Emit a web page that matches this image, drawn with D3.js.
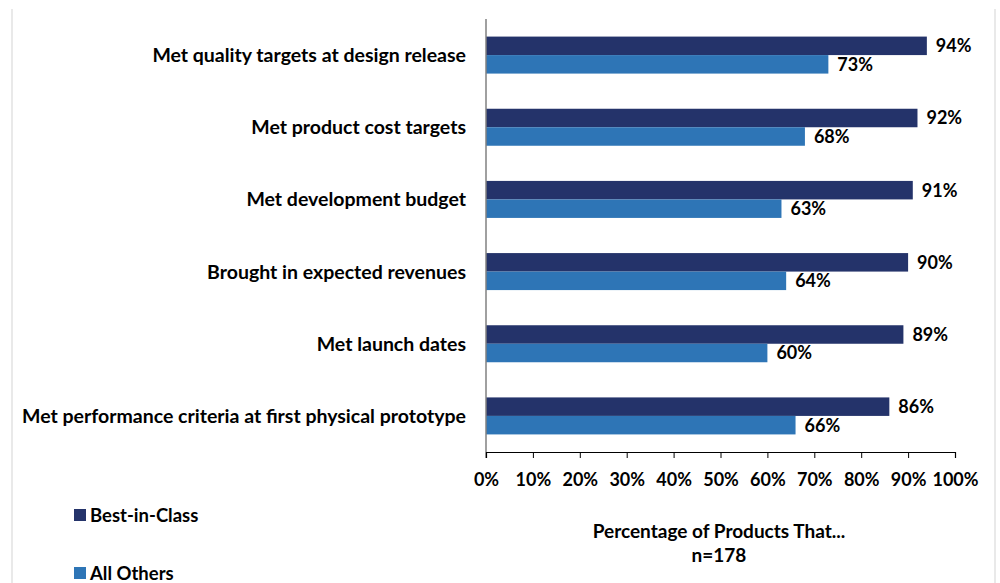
<!DOCTYPE html>
<html>
<head>
<meta charset="utf-8">
<script src="https://cdn.jsdelivr.net/npm/d3@7"></script>
<style>
  body { margin: 0; background: #fff; }
  text { font-family: Lato, "Open Sans", sans-serif; font-weight: bold; fill: #000; }
</style>
</head>
<body>
<script>
// Chart data
var categories = [
  "Met quality targets at design release",
  "Met product cost targets",
  "Met development budget",
  "Brought in expected revenues",
  "Met launch dates",
  "Met performance criteria at first physical prototype"
];
var seriesNames = ["Best-in-Class", "All Others"];
var bestInClass = [94, 92, 91, 90, 89, 86];
var allOthers = [73, 68, 63, 64, 60, 66];
var xTicks = [0, 10, 20, 30, 40, 50, 60, 70, 80, 90, 100];
var axisTitle = ["Percentage of Products That...", "n=178"];

var colors = ["#24336a", "#2e75b6"];
var width = 1000, height = 583;

var svg = d3.select("body")
.append("svg")
.attr("width", width)
.attr("height", height);

// light frame around the chart area
svg.append("line").attr("x1", 12).attr("x2", 12).attr("y1", 9).attr("y2", height)
.attr("stroke", "#e2e2e2").attr("stroke-width", 1.5);
svg.append("line").attr("x1", 995).attr("x2", 995).attr("y1", 9).attr("y2", height)
.attr("stroke", "#e2e2e2").attr("stroke-width", 1.5);

// scales
var x_Scale = d3.scaleLinear()
.domain([0, 100])
.range([486, 955]);

var y_Scale = d3.scaleBand()
.domain(categories)
.range([19, 452]);

var barH = 18.5;

// rows: one per category
var rows = categories.map(function(c, i) {
  return {cat: c, vals: [bestInClass[i], allOthers[i]]};
});

var groups = svg.selectAll(".row")
.data(rows)
.enter()
.append("g")
.attr("class", "row");

groups.each(function(d) {
  var g = d3.select(this);
  var mid = y_Scale(d.cat) + y_Scale.bandwidth() / 2;
  d.vals.forEach(function(v, k) {
    var y0 = mid - barH + k * barH;
    g.append("rect")
    .attr("x", x_Scale(0))
    .attr("y", y0)
    .attr("width", x_Scale(v) - x_Scale(0))
    .attr("height", barH)
    .attr("fill", colors[k]);
    g.append("text")
    .attr("x", x_Scale(v) + 9)
    .attr("y", y0 + barH / 2)
    .attr("dy", "0.36em")
    .style("font-size", "18px")
    .text(v + "%");
  });
  // category label
  g.append("text")
  .attr("x", 466)
  .attr("y", mid)
  .attr("dy", "0.36em")
  .attr("text-anchor", "end")
  .style("font-size", "19.5px")
  .text(d.cat);
});

// y axis line (grey)
svg.append("line")
.attr("x1", x_Scale(0)).attr("x2", x_Scale(0))
.attr("y1", 19).attr("y2", 458)
.attr("stroke", "#808080").attr("stroke-width", 1.5);

// x axis
var x_Axis = svg.append("g")
.attr("transform", "translate(0, 452)")
.call(d3.axisBottom(x_Scale).tickValues(xTicks).tickSize(6).tickPadding(15)
  .tickFormat(function(d) { return d + "%"; }));
x_Axis.select(".domain").attr("stroke", "#000").attr("stroke-width", 1.2);
x_Axis.selectAll(".tick line").attr("stroke", "#000");
x_Axis.selectAll(".tick text")
.style("font-size", "18px")
.style("font-family", "Lato, sans-serif")
.style("font-weight", "bold")
.attr("fill", "#000");

// axis title
svg.append("text")
.attr("x", 719).attr("y", 538)
.attr("text-anchor", "middle")
.style("font-size", "19px")
.text(axisTitle[0]);
svg.append("text")
.attr("x", 719).attr("y", 562)
.attr("text-anchor", "middle")
.style("font-size", "19px")
.text(axisTitle[1]);

// legend
var legendY = [509, 567];
seriesNames.forEach(function(name, k) {
  svg.append("rect")
  .attr("x", 74).attr("y", legendY[k])
  .attr("width", 12).attr("height", 12)
  .attr("fill", colors[k]);
  svg.append("text")
  .attr("x", 90).attr("y", legendY[k] + 13)
  .style("font-size", "18.5px")
  .text(name);
});
</script>
</body>
</html>
